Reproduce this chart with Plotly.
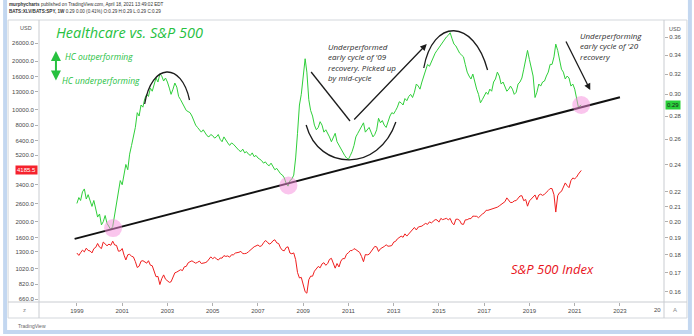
import numpy as np
import pandas as pd
import plotly.graph_objects as go

# ---- data -------------------------------------------------------------
# S&P 500 index, monthly (Jan 1999 .. Apr 2021)
spx_close = [
    1280, 1238, 1286, 1335, 1302, 1373, 1329, 1320, 1283, 1363, 1389, 1469,   # 1999
    1394, 1366, 1499, 1452, 1421, 1455, 1431, 1518, 1437, 1429, 1315, 1320,   # 2000
    1366, 1240, 1160, 1249, 1256, 1224, 1211, 1134, 1041, 1060, 1139, 1148,   # 2001
    1130, 1107, 1147, 1076, 1067, 990, 912, 916, 815, 886, 936, 880,          # 2002
    856, 841, 848, 917, 964, 975, 990, 1008, 996, 1051, 1058, 1112,           # 2003
    1131, 1145, 1126, 1107, 1121, 1141, 1102, 1104, 1115, 1130, 1174, 1212,   # 2004
    1181, 1204, 1181, 1157, 1192, 1191, 1234, 1220, 1229, 1207, 1249, 1248,   # 2005
    1280, 1281, 1295, 1311, 1270, 1270, 1277, 1304, 1336, 1378, 1401, 1418,   # 2006
    1438, 1407, 1421, 1482, 1531, 1503, 1455, 1474, 1527, 1549, 1481, 1468,   # 2007
    1379, 1331, 1323, 1386, 1400, 1280, 1267, 1283, 1165, 969, 896, 903,      # 2008
    826, 735, 720, 873, 919, 919, 987, 1021, 1057, 1036, 1096, 1115,          # 2009
    1074, 1104, 1169, 1187, 1089, 1031, 1102, 1049, 1141, 1183, 1181, 1258,   # 2010
    1286, 1327, 1326, 1364, 1345, 1321, 1292, 1219, 1131, 1253, 1247, 1258,   # 2011
    1312, 1366, 1408, 1398, 1310, 1362, 1379, 1407, 1441, 1412, 1416, 1426,   # 2012
    1498, 1515, 1569, 1598, 1631, 1606, 1686, 1633, 1682, 1757, 1806, 1848,   # 2013
    1783, 1859, 1872, 1884, 1924, 1960, 1931, 2003, 1972, 2018, 2068, 2059,   # 2014
    1995, 2105, 2068, 2086, 2107, 2063, 2104, 1972, 1920, 2079, 2080, 2044,   # 2015
    1940, 1932, 2060, 2065, 2097, 2099, 2174, 2171, 2168, 2126, 2199, 2239,   # 2016
    2279, 2364, 2363, 2384, 2412, 2423, 2470, 2472, 2519, 2575, 2648, 2674,   # 2017
    2824, 2714, 2641, 2648, 2705, 2718, 2816, 2902, 2914, 2712, 2760, 2507,   # 2018
    2704, 2784, 2834, 2946, 2752, 2942, 2980, 2926, 2977, 3038, 3141, 3231,   # 2019
    3226, 2954, 2305, 2912, 3044, 3100, 3271, 3500, 3363, 3270, 3622, 3756,   # 2020
    3714, 3811, 3973, 4185.5,                                                  # 2021
]

# XLV / SPY price ratio, monthly (Jan 1999 .. Apr 2021)
xlv_spy = [
    .212, .216, .214, .220, .222, .215, .218, .213, .210, .214, .208, .203,   # 1999
    .205, .198, .200, .204, .199, .197, .195, .197, .205, .214, .222, .228,   # 2000
    .225, .232, .240, .236, .248, .255, .262, .270, .283, .280, .290, .288,   # 2001
    .296, .300, .298, .306, .303, .310, .316, .312, .320, .318, .313, .316,   # 2002
    .312, .306, .300, .305, .311, .307, .298, .295, .292, .288, .285, .284,   # 2003
    .283, .280, .276, .272, .270, .268, .266, .268, .265, .263, .262, .264,   # 2004
    .263, .261, .262, .264, .260, .258, .262, .259, .257, .255, .257, .256,   # 2005
    .254, .253, .251, .250, .252, .249, .250, .248, .247, .249, .246, .247,   # 2006
    .245, .244, .243, .241, .242, .240, .239, .241, .238, .236, .237, .235,   # 2007
    .233, .232, .230, .226, .224, .228, .229, .232, .245, .265, .290, .300,   # 2008
    .315, .336, .322, .295, .285, .280, .272, .268, .270, .275, .272, .266,   # 2009
    .268, .265, .262, .258, .262, .265, .258, .255, .252, .250, .247, .245,   # 2010
    .244, .247, .250, .255, .262, .265, .268, .272, .274, .266, .268, .270,   # 2011
    .266, .262, .264, .268, .278, .274, .276, .272, .270, .276, .280, .283,   # 2012
    .282, .285, .288, .293, .292, .290, .296, .294, .298, .300, .297, .302,   # 2013
    .310, .308, .305, .312, .318, .322, .330, .328, .333, .338, .342, .345,   # 2014
    .348, .352, .355, .358, .360, .362, .365, .358, .352, .350, .345, .342,   # 2015
    .340, .338, .330, .322, .318, .315, .320, .312, .305, .300, .292, .295,   # 2016
    .298, .302, .300, .305, .303, .312, .315, .322, .318, .310, .312, .308,   # 2017
    .303, .305, .308, .305, .300, .302, .310, .312, .316, .325, .335, .345,   # 2018
    .335, .325, .318, .297, .302, .310, .308, .312, .313, .318, .322, .330,   # 2019
    .330, .338, .352, .345, .335, .325, .322, .315, .318, .316, .308, .310,   # 2020
    .305, .296, .288, .290,                                                    # 2021
]

# support line under the ratio and the points where it was tested
trend_dates = ["1998-11-25", "2023-01-01"]
trend_ratio = [0.1894, 0.2972]
touch_dates = ["2000-08-07", "2008-05-07", "2021-04-16"]
touch_ratio = [0.196, 0.2245, 0.290]

year_ticks = list(range(1999, 2024, 2))
spx_ticks = [660, 820, 1020, 1300, 1600, 2000, 2600, 3400, 5200, 6400,
             8000, 10000, 13000, 16000, 20000, 26000]
ratio_ticks = [0.16, 0.17, 0.18, 0.19, 0.20, 0.21, 0.22, 0.24, 0.26,
               0.28, 0.30, 0.32, 0.34, 0.36]

dates = list(pd.date_range("1999-01-01", periods=len(spx_close), freq="MS").strftime("%Y-%m-%d"))
dates[-1] = "2021-04-16"

# ---- geometry helpers (pixel -> paper) --------------------------------
W, H = 694, 336
L, R, T, B = 37, 664, 21, 302


def px(x):
    return (x - L) / (R - L)


def py(y):
    return (B - y) / (B - T)


def pt(x, y):
    return f"{px(x):.5f},{py(y):.5f}"


GREEN = "#2fcf3a"
GREEN_TXT = "#27c13f"
RED = "#f01e1e"
INK = "#2a2a2a"
TICKFONT = dict(family="Liberation Sans, Arial, sans-serif", size=6, color="#4a4a4a")

fig = go.Figure()

fig.add_trace(go.Scatter(x=dates, y=spx_close, yaxis="y", mode="lines",
                         line=dict(color=RED, width=1), hoverinfo="skip"))
fig.add_trace(go.Scatter(x=dates, y=xlv_spy, yaxis="y2", mode="lines",
                         line=dict(color=GREEN, width=1), hoverinfo="skip"))
fig.add_trace(go.Scatter(x=trend_dates, y=trend_ratio, yaxis="y2", mode="lines",
                         line=dict(color="#111111", width=2), hoverinfo="skip"))
fig.add_trace(go.Scatter(x=touch_dates, y=touch_ratio, yaxis="y2", mode="markers",
                         marker=dict(size=18, color="rgba(246,140,220,0.5)", line=dict(width=0)),
                         hoverinfo="skip"))

shapes = []
# outer light-blue border and chart panel frame
shapes.append(dict(type="rect", xref="paper", yref="paper", x0=px(3), x1=px(690), y0=py(332), y1=py(-10),
                   line=dict(color="#c3d7f0", width=4), layer="below"))
shapes.append(dict(type="rect", xref="paper", yref="paper", x0=px(6), x1=px(687), y0=py(318), y1=py(20),
                   line=dict(color="#d3d7dc", width=1), layer="below"))
for xv in (L, R):
    shapes.append(dict(type="line", xref="paper", yref="paper", x0=px(xv), x1=px(xv), y0=py(318), y1=py(20),
                       line=dict(color="#c9ccd1", width=1)))
shapes.append(dict(type="line", xref="paper", yref="paper", x0=px(6), x1=px(687), y0=py(302), y1=py(302),
                   line=dict(color="#c9ccd1", width=1)))

# hand-drawn arcs
arc_style = dict(color="#1c1c1c", width=1.3)
shapes.append(dict(type="path", xref="paper", yref="paper", line=arc_style,
                   path=f"M {pt(143,104)} C {pt(150,62)} {pt(180,62)} {pt(188,100)}"))
shapes.append(dict(type="path", xref="paper", yref="paper", line=arc_style,
                   path=f"M {pt(305,125)} C {pt(318,172)} {pt(378,172)} {pt(395,122)}"))
shapes.append(dict(type="path", xref="paper", yref="paper", line=arc_style,
                   path=f"M {pt(423,68)} C {pt(432,18)} {pt(473,18)} {pt(487,70)}"))
shapes.append(dict(type="line", xref="paper", yref="paper", line=arc_style,
                   x0=px(310), y0=py(72), x1=px(349), y1=py(121)))

ann = []


def text(x, y, s, size, color, anchor="left", style="italic", family="Open Sans, sans-serif", **kw):
    ann.append(dict(xref="paper", yref="paper", x=px(x), y=py(y), text=s, showarrow=False,
                    xanchor=anchor, yanchor="middle", align="left",
                    font=dict(family=family, size=size, color=color, style=style), **kw))


def arrow(x_head, y_head, x_tail, y_tail, color="#1c1c1c", width=1.3, both=False):
    a = dict(xref="paper", yref="paper", x=px(x_head), y=py(y_head), ax=x_tail - x_head, ay=y_tail - y_head,
             axref="pixel", ayref="pixel", text="", showarrow=True, arrowhead=2, arrowsize=1,
             arrowwidth=width, arrowcolor=color)
    if both:
        a.update(arrowside="end+start", startarrowhead=2, startarrowsize=1)
    ann.append(a)


# titles and notes
text(52, 33, "Healthcare vs. S&P 500", 14.5, GREEN_TXT)
text(61, 56, "HC outperforming", 8.5, GREEN_TXT)
text(58, 80, "HC underperforming", 8.5, GREEN_TXT)
arrow(54, 51, 54, 82, color=GREEN_TXT, width=2, both=True)
text(509, 269, "S&P 500 Index", 13, "#e8141c")

text(325, 62, "Underperformed<br>early cycle of '09<br>recovery. Picked up<br>by mid-cycle", 8, INK)
text(578, 46, "Underperforming<br>early cycle of '20<br>recovery", 8, INK)

arrow(426, 44, 352, 121)
arrow(590, 90, 565, 40)

# header and chrome text
text(5, 5, "<b>murphycharts</b> published on TradingView.com, April 18, 2021 13:49:02 EDT", 4.6, "#333",
     style="normal", family="Liberation Sans, Arial, sans-serif")
text(5, 12, "<b>BATS:XLV/BATS:SPY, 1W</b> 0.29 0.00 (0.41%) O:0.29 H:0.29 L:0.29 C:0.29", 4.6, "#333",
     style="normal", family="Liberation Sans, Arial, sans-serif")
text(24, 28, "USD", 5.5, "#555", anchor="center", style="normal", family="Liberation Sans, Arial, sans-serif")
text(675, 29, "USD", 5.5, "#555", anchor="center", style="normal", family="Liberation Sans, Arial, sans-serif")
text(663, 310, "20", 6, "#4a4a4a", anchor="right", style="normal", family="Liberation Sans, Arial, sans-serif")
text(675, 310, "A", 6, "#888", anchor="center", style="normal", family="Liberation Sans, Arial, sans-serif")
text(22, 310, "z", 6, "#888", anchor="center", style="normal", family="Liberation Sans, Arial, sans-serif")
text(14, 326, "TradingView", 5, "#666", style="normal", family="Liberation Sans, Arial, sans-serif")

# last-value tags on both price scales
ann.append(dict(xref="paper", yref="y", x=px(36), y=float(np.log10(spx_close[-1])), text="4185.5",
                showarrow=False, xanchor="right", yanchor="middle", bgcolor="#f5222d", borderpad=1,
                font=dict(family="Liberation Sans, Arial, sans-serif", size=6, color="white")))
ann.append(dict(xref="paper", yref="y2", x=px(665), y=float(np.log10(xlv_spy[-1])), text="0.29",
                showarrow=False, xanchor="left", yanchor="middle", bgcolor="#2ad03a", borderpad=1,
                font=dict(family="Liberation Sans, Arial, sans-serif", size=6, color="#1a1a1a")))

fig.update_layout(
    width=W, height=H,
    margin=dict(l=L, r=W - R, t=T, b=H - B),
    paper_bgcolor="white", plot_bgcolor="white",
    showlegend=False,
    xaxis=dict(type="date", range=["1997-04-29", "2024-12-12"],
               tickvals=[f"{y}-01-01" for y in year_ticks], ticktext=[str(y) for y in year_ticks],
               showgrid=False, zeroline=False, showline=False,
               ticks="outside", ticklen=3, tickcolor="#b0b0b0", tickfont=TICKFONT),
    yaxis=dict(type="log", range=[2.8025, 4.5525], side="left",
               tickvals=spx_ticks, ticktext=[f"{v:.1f}" for v in spx_ticks],
               showgrid=False, zeroline=False, showline=False,
               ticks="outside", ticklen=3, tickcolor="#b0b0b0", tickfont=TICKFONT),
    yaxis2=dict(type="log", range=[-0.8099, -0.4215], side="right", overlaying="y",
                tickvals=ratio_ticks, ticktext=[f"{v:.2f}" for v in ratio_ticks],
                showgrid=False, zeroline=False, showline=False,
                ticks="outside", ticklen=3, tickcolor="#b0b0b0", tickfont=TICKFONT),
    shapes=shapes,
    annotations=ann,
)

fig.write_html("out.html")
